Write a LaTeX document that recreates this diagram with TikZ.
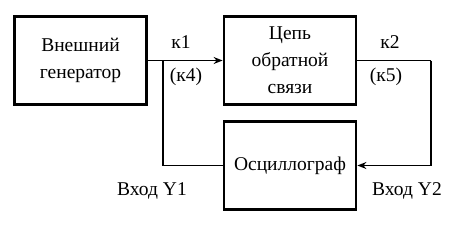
\documentclass[tikz,border=0pt]{standalone}
\usepackage{fontspec}
\setmainfont{Liberation Serif}
\newfontfamily\tnr{Liberation Serif}
\usetikzlibrary{arrows.meta}
\begin{document}
\begin{tikzpicture}[x=1pt,y=-1pt,
  blk/.style={draw, line width=2.8pt, minimum width=132pt, minimum height=88pt, align=center, inner sep=0pt, font=\tnr\fontsize{19.5}{27}\selectfont},
  lbl/.style={inner sep=0pt, font=\tnr\fontsize{19.5}{24}\selectfont},
  conn/.style={line width=1.6pt},
  arr/.style={conn, -{Stealth[length=9pt, width=7pt, inset=3pt]}}]
\useasboundingbox (0,0) rectangle (453,225);
\node[blk] (gen) at (80.5,60.5) {Внешний\\генератор};
\node[blk] (fb) at (290,60.5) {Цепь\\обратной\\связи};
\node[blk] (osc) at (290,165.5) {Осциллограф};
\coordinate (br) at (163,60.5);
\coordinate (rc) at (431,60.5);
\draw[arr] (gen.east) -- (fb.west);
\draw[conn] (br) |- (osc.west);
\draw[conn] (fb.east) -- (rc);
\draw[arr] (rc) |- (osc.east);
\node[lbl] (k1) at (181,42) {к1};
\node[lbl] (k4) at (186,77) {(к4)};
\node[lbl] (k2) at (390,42) {к2};
\node[lbl] (k5) at (386,77) {(к5)};
\node[lbl] (y1) at (152,191) {Вход Y1};
\node[lbl] (y2) at (407,191) {Вход Y2};
\end{tikzpicture}
\end{document}
